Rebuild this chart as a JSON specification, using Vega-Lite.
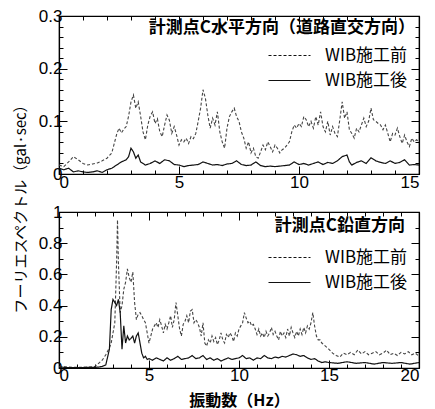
{
  "$schema": "https://vega.github.io/schema/vega-lite/v6.json",
  "padding": {"left": 12, "top": 6, "right": 4, "bottom": 0},
  "bounds": "flush",
  "spacing": 38,
  "config": {
    "font": "Liberation Sans",
    "view": {"stroke": "black", "strokeWidth": 1.2},
    "mark": {"invalid": "filter"},
    "axis": {
      "domainColor": "black", "domainWidth": 1.2, "tickColor": "black", "tickWidth": 1,
      "labelColor": "black", "labelFont": "Liberation Sans", "labelFontSize": 17,
      "grid": false, "titleFont": "Noto Sans CJK JP", "titleFontSize": 15,
      "titleFontWeight": "normal", "titleColor": "black"
    },
    "legend": {
      "labelFont": "Noto Sans CJK JP", "labelFontSize": 17, "labelColor": "black"
    }
  },
  "datasets": {
    "top": [
      {"f":0,"b":0.017,"a":0.011},{"f":0.2,"b":0.014,"a":0.008},{"f":0.4,"b":0.023,"a":0.011},{"f":0.6,"b":0.033,"a":0.004},
      {"f":0.8,"b":0.027,"a":0.006},{"f":1.0,"b":0.02,"a":0.004},{"f":1.2,"b":0.017,"a":0.003},{"f":1.4,"b":0.019,"a":0.004},
      {"f":1.6,"b":0.021,"a":0.006},{"f":1.8,"b":0.025,"a":0.003},{"f":2.0,"b":0.03,"a":0.008},{"f":2.2,"b":0.04,"a":0.011},
      {"f":2.4,"b":0.075,"a":0.017},{"f":2.5,"b":0.087},{"f":2.6,"b":0.078,"a":0.023},{"f":2.7,"b":0.085},
      {"f":2.8,"b":0.09,"a":0.027},{"f":2.9,"b":0.11,"a":0.033},{"f":3.0,"b":0.137,"a":0.049},{"f":3.1,"b":0.15,"a":0.042},
      {"f":3.2,"b":0.125,"a":0.03},{"f":3.3,"b":0.137,"a":0.036},{"f":3.4,"b":0.11,"a":0.023},{"f":3.5,"b":0.08},
      {"f":3.6,"b":0.065,"a":0.017},{"f":3.7,"b":0.093},{"f":3.8,"b":0.11,"a":0.02},{"f":3.9,"b":0.118},
      {"f":4.0,"b":0.096,"a":0.025},{"f":4.1,"b":0.105},{"f":4.2,"b":0.08,"a":0.02},{"f":4.3,"b":0.071},
      {"f":4.4,"b":0.093,"a":0.027},{"f":4.5,"b":0.112},{"f":4.6,"b":0.102,"a":0.025},{"f":4.7,"b":0.077},
      {"f":4.8,"b":0.09,"a":0.018},{"f":4.9,"b":0.074},{"f":5.0,"b":0.055,"a":0.017},{"f":5.1,"b":0.065},
      {"f":5.2,"b":0.061,"a":0.014},{"f":5.3,"b":0.068},{"f":5.4,"b":0.058,"a":0.016},{"f":5.5,"b":0.071},
      {"f":5.6,"b":0.067,"a":0.017},{"f":5.7,"b":0.077},{"f":5.8,"b":0.1,"a":0.018},{"f":5.9,"b":0.125},
      {"f":6.0,"b":0.16,"a":0.023},{"f":6.1,"b":0.144},{"f":6.2,"b":0.112,"a":0.02},{"f":6.3,"b":0.087},
      {"f":6.4,"b":0.106,"a":0.017},{"f":6.5,"b":0.093},{"f":6.6,"b":0.118,"a":0.018},{"f":6.7,"b":0.08},
      {"f":6.8,"b":0.061,"a":0.016},{"f":6.9,"b":0.049},{"f":7.0,"b":0.087,"a":0.019},{"f":7.1,"b":0.109},
      {"f":7.2,"b":0.118,"a":0.02},{"f":7.3,"b":0.125},{"f":7.4,"b":0.109,"a":0.025},{"f":7.5,"b":0.1},
      {"f":7.6,"b":0.08,"a":0.018},{"f":7.7,"b":0.068},{"f":7.8,"b":0.049,"a":0.016},{"f":7.9,"b":0.061},
      {"f":8.0,"b":0.04,"a":0.017},{"f":8.1,"b":0.049},{"f":8.2,"b":0.033,"a":0.023},{"f":8.3,"b":0.03},
      {"f":8.4,"b":0.042,"a":0.016},{"f":8.5,"b":0.055},{"f":8.6,"b":0.046,"a":0.014},{"f":8.7,"b":0.061},
      {"f":8.8,"b":0.052,"a":0.015},{"f":8.9,"b":0.042},{"f":9.0,"b":0.055,"a":0.014},{"f":9.1,"b":0.049},
      {"f":9.2,"b":0.04,"a":0.015},{"f":9.3,"b":0.046},{"f":9.4,"b":0.049,"a":0.016},{"f":9.5,"b":0.055},
      {"f":9.6,"b":0.061,"a":0.017},{"f":9.7,"b":0.08},{"f":9.8,"b":0.093,"a":0.023},{"f":9.9,"b":0.087},
      {"f":10.0,"b":0.096,"a":0.018},{"f":10.1,"b":0.09},{"f":10.2,"b":0.109,"a":0.02},{"f":10.3,"b":0.103},
      {"f":10.4,"b":0.09,"a":0.017},{"f":10.5,"b":0.1},{"f":10.6,"b":0.087,"a":0.02},{"f":10.7,"b":0.109},
      {"f":10.8,"b":0.093,"a":0.023},{"f":10.9,"b":0.118},{"f":11.0,"b":0.09,"a":0.018},{"f":11.1,"b":0.08},
      {"f":11.2,"b":0.1,"a":0.022},{"f":11.3,"b":0.074},{"f":11.4,"b":0.09,"a":0.02},{"f":11.5,"b":0.077},
      {"f":11.6,"b":0.071,"a":0.025},{"f":11.7,"b":0.103},{"f":11.8,"b":0.137,"a":0.033},{"f":11.9,"b":0.106},
      {"f":12.0,"b":0.118,"a":0.036},{"f":12.1,"b":0.084,"a":0.023},{"f":12.2,"b":0.077,"a":0.017},{"f":12.3,"b":0.068},
      {"f":12.4,"b":0.087,"a":0.022},{"f":12.5,"b":0.08},{"f":12.6,"b":0.093,"a":0.025},{"f":12.7,"b":0.106},
      {"f":12.8,"b":0.09,"a":0.02},{"f":12.9,"b":0.1},{"f":13.0,"b":0.125,"a":0.031},{"f":13.1,"b":0.103},
      {"f":13.2,"b":0.1,"a":0.025},{"f":13.3,"b":0.096},{"f":13.4,"b":0.093,"a":0.022},{"f":13.5,"b":0.084},
      {"f":13.6,"b":0.093,"a":0.02},{"f":13.7,"b":0.077},{"f":13.8,"b":0.061,"a":0.025},{"f":13.9,"b":0.077},
      {"f":14.0,"b":0.074,"a":0.02},{"f":14.1,"b":0.087},{"f":14.2,"b":0.071,"a":0.022},{"f":14.3,"b":0.058},
      {"f":14.4,"b":0.074,"a":0.027},{"f":14.5,"b":0.061},{"f":14.6,"b":0.052,"a":0.017},{"f":14.7,"b":0.068},
      {"f":14.8,"b":0.061,"a":0.018},{"f":14.9,"b":0.065},{"f":15.0,"b":0.061,"a":0.017}
    ],
    "bot": [
      {"f":0,"b":0.01,"a":0.006},{"f":0.5,"b":0.006,"a":0.003},{"f":1.0,"b":0.004,"a":0.002},{"f":1.5,"b":0.005,"a":0.004},
      {"f":2.0,"b":0.01,"a":0.004},{"f":2.2,"b":0.03,"a":0.006},{"f":2.4,"b":0.05,"a":0.01},{"f":2.6,"b":0.085,"a":0.02},
      {"f":2.8,"b":0.13,"a":0.12},{"f":2.9,"b":0.16,"a":0.375},{"f":3.0,"b":0.225,"a":0.44},{"f":3.1,"b":0.29,"a":0.42},
      {"f":3.2,"b":0.68,"a":0.4},{"f":3.25,"b":0.95},{"f":3.3,"b":0.68,"a":0.44},{"f":3.4,"b":0.355,"a":0.355},
      {"f":3.5,"b":0.4,"a":0.12},{"f":3.6,"b":0.505,"a":0.27},{"f":3.7,"b":0.55,"a":0.16},{"f":3.8,"b":0.635,"a":0.205},
      {"f":3.9,"b":0.58,"a":0.18},{"f":4.0,"b":0.55,"a":0.19},{"f":4.1,"b":0.615,"a":0.205},{"f":4.2,"b":0.42,"a":0.16},
      {"f":4.3,"b":0.31,"a":0.205},{"f":4.4,"b":0.345,"a":0.225},{"f":4.5,"b":0.355,"a":0.16},{"f":4.6,"b":0.335,"a":0.095},
      {"f":4.7,"b":0.31,"a":0.065},{"f":4.8,"b":0.29,"a":0.075},{"f":4.9,"b":0.225,"a":0.055},{"f":5.0,"b":0.16,"a":0.06},
      {"f":5.1,"b":0.205},{"f":5.2,"b":0.25,"a":0.05},{"f":5.3,"b":0.27},{"f":5.4,"b":0.29,"a":0.065},
      {"f":5.5,"b":0.26},{"f":5.6,"b":0.31,"a":0.055},{"f":5.7,"b":0.27},{"f":5.8,"b":0.225,"a":0.045},
      {"f":5.9,"b":0.28},{"f":6.0,"b":0.25,"a":0.065},{"f":6.1,"b":0.29},{"f":6.2,"b":0.335,"a":0.05},
      {"f":6.3,"b":0.26},{"f":6.4,"b":0.31,"a":0.06},{"f":6.5,"b":0.42},{"f":6.6,"b":0.335,"a":0.075},
      {"f":6.7,"b":0.25},{"f":6.8,"b":0.205,"a":0.055},{"f":6.9,"b":0.28},{"f":7.0,"b":0.3,"a":0.06},
      {"f":7.1,"b":0.335},{"f":7.2,"b":0.29,"a":0.065},{"f":7.3,"b":0.365},{"f":7.4,"b":0.375,"a":0.08},
      {"f":7.5,"b":0.29},{"f":7.6,"b":0.31,"a":0.06},{"f":7.7,"b":0.29},{"f":7.8,"b":0.26,"a":0.065},
      {"f":7.9,"b":0.205},{"f":8.0,"b":0.29,"a":0.08},{"f":8.1,"b":0.16},{"f":8.2,"b":0.14,"a":0.055},
      {"f":8.3,"b":0.18},{"f":8.4,"b":0.16,"a":0.065},{"f":8.5,"b":0.205},{"f":8.6,"b":0.17,"a":0.05},
      {"f":8.7,"b":0.195},{"f":8.8,"b":0.15,"a":0.06},{"f":8.9,"b":0.18},{"f":9.0,"b":0.225,"a":0.045},
      {"f":9.1,"b":0.18},{"f":9.2,"b":0.16,"a":0.055},{"f":9.3,"b":0.215},{"f":9.4,"b":0.195,"a":0.065},
      {"f":9.5,"b":0.225},{"f":9.6,"b":0.205,"a":0.055},{"f":9.7,"b":0.17},{"f":9.8,"b":0.225,"a":0.06},
      {"f":9.9,"b":0.205},{"f":10.0,"b":0.25,"a":0.065},{"f":10.1,"b":0.27},{"f":10.2,"b":0.29,"a":0.08},
      {"f":10.3,"b":0.355},{"f":10.4,"b":0.32,"a":0.06},{"f":10.5,"b":0.29},{"f":10.6,"b":0.3,"a":0.065},
      {"f":10.7,"b":0.27},{"f":10.8,"b":0.28,"a":0.05},{"f":10.9,"b":0.25},{"f":11.0,"b":0.215,"a":0.065},
      {"f":11.1,"b":0.25},{"f":11.2,"b":0.205,"a":0.06},{"f":11.3,"b":0.225},{"f":11.4,"b":0.195,"a":0.08},
      {"f":11.5,"b":0.235},{"f":11.6,"b":0.205,"a":0.065},{"f":11.7,"b":0.225},{"f":11.8,"b":0.26,"a":0.06},
      {"f":11.9,"b":0.215},{"f":12.0,"b":0.235,"a":0.07},{"f":12.1,"b":0.205},{"f":12.2,"b":0.18,"a":0.065},
      {"f":12.3,"b":0.235},{"f":12.4,"b":0.205,"a":0.075},{"f":12.5,"b":0.225},{"f":12.6,"b":0.195,"a":0.07},
      {"f":12.7,"b":0.25},{"f":12.8,"b":0.205,"a":0.08},{"f":12.9,"b":0.26},{"f":13.0,"b":0.225,"a":0.09},
      {"f":13.1,"b":0.195},{"f":13.2,"b":0.235,"a":0.085},{"f":13.3,"b":0.205},{"f":13.4,"b":0.25,"a":0.075},
      {"f":13.5,"b":0.215},{"f":13.6,"b":0.26,"a":0.08},{"f":13.7,"b":0.225},{"f":13.8,"b":0.27,"a":0.065},
      {"f":13.9,"b":0.25},{"f":14.0,"b":0.29,"a":0.055},{"f":14.1,"b":0.355},{"f":14.2,"b":0.27,"a":0.06},
      {"f":14.3,"b":0.205},{"f":14.4,"b":0.18,"a":0.045},{"f":14.5,"b":0.18},{"f":14.6,"b":0.16,"a":0.035},
      {"f":14.7,"b":0.15},{"f":14.8,"b":0.14,"a":0.04},{"f":14.9,"b":0.13},{"f":15.0,"b":0.12,"a":0.035},
      {"f":15.2,"b":0.095},{"f":15.4,"b":0.08},{"f":15.5,"a":0.03},{"f":15.6,"b":0.07},{"f":15.8,"b":0.095},
      {"f":16.0,"b":0.085,"a":0.04},{"f":16.2,"b":0.1},{"f":16.4,"b":0.085},{"f":16.5,"a":0.03},{"f":16.6,"b":0.115},
      {"f":16.8,"b":0.09},{"f":17.0,"b":0.105,"a":0.035},{"f":17.2,"b":0.085},{"f":17.4,"b":0.095},{"f":17.5,"a":0.025},
      {"f":17.6,"b":0.105},{"f":17.8,"b":0.085},{"f":18.0,"b":0.095,"a":0.035},{"f":18.2,"b":0.115},{"f":18.4,"b":0.085},
      {"f":18.5,"a":0.03},{"f":18.6,"b":0.095},{"f":18.8,"b":0.08},{"f":19.0,"b":0.1,"a":0.035},{"f":19.2,"b":0.09},
      {"f":19.4,"b":0.105},{"f":19.5,"a":0.025},{"f":19.6,"b":0.085},{"f":19.8,"b":0.095},{"f":20.0,"b":0.075,"a":0.035}
    ]
  },
  "vconcat": [
    {
      "width": 360, "height": 158,
      "data": {"name": "top"},
      "transform": [{"fold": ["b", "a"], "as": ["s", "v"]}, {"filter": "isValid(datum.v)"}],
      "title": {"text": "計測点C水平方向（道路直交方向）", "orient": "top", "anchor": "end", "frame": "group",
        "offset": -30, "dx": -4, "font": "Noto Sans CJK JP", "fontSize": 17, "fontWeight": "bold", "color": "black"},
      "layer": [
        {
          "transform": [{"filter": "datum.s === 'b'"}],
          "mark": {"type": "line", "strokeWidth": 1.1, "color": "#444"},
          "encoding": {
            "x": {"field": "f", "type": "quantitative", "scale": {"domain": [0, 15], "nice": false},
              "axis": {"orient": "bottom", "title": null, "values": [0,1,2,3,4,5,6,7,8,9,10,11,12,13,14,15],
                "labelExpr": "datum.value % 5 === 0 ? datum.label : ''",
                "tickSize": {"condition": {"test": "datum.value % 5 === 0", "value": -8}, "value": -4},
                "labelPadding": 8}},
            "y": {"field": "v", "type": "quantitative", "scale": {"domain": [0, 0.3], "nice": false},
              "axis": {"orient": "left", "values": [0,0.02,0.04,0.06,0.08,0.1,0.12,0.14,0.16,0.18,0.2,0.22,0.24,0.26,0.28,0.3],
                "format": "~g",
                "labelExpr": "abs(datum.value*10 - round(datum.value*10)) < 0.001 ? datum.label : ''",
                "tickSize": {"condition": {"test": "abs(datum.value*10 - round(datum.value*10)) < 0.001", "value": -8}, "value": -4},
                "labelPadding": 5,
                "title": "フーリエスペクトル（gal·sec）", "titleY": 189, "titlePadding": 10}},
            "strokeDash": {"field": "s", "type": "nominal",
              "scale": {"domain": ["b", "a"], "range": [[3, 2], [1, 0]]},
              "legend": {"orient": "none", "legendX": 222, "legendY": 31, "title": null,
                "symbolType": "M-3,0H3", "symbolSize": 196, "symbolStrokeWidth": 1.2, "symbolStrokeColor": "#222",
                "labelOffset": 27, "rowPadding": 7,
                "labelExpr": "datum.value === 'b' ? 'WIB施工前' : 'WIB施工後'"}}
          }
        },
        {
          "transform": [{"filter": "datum.s === 'a'"}],
          "mark": {"type": "line", "strokeWidth": 1.2, "color": "#111"},
          "encoding": {
            "x": {"field": "f", "type": "quantitative",
              "axis": {"orient": "top", "title": null, "labels": false, "values": [0,1,2,3,4,5,6,7,8,9,10,11,12,13,14,15],
                "tickSize": {"condition": {"test": "datum.value % 5 === 0", "value": -8}, "value": -4}}},
            "y": {"field": "v", "type": "quantitative",
              "axis": {"orient": "right", "title": null, "labels": false,
                "values": [0,0.02,0.04,0.06,0.08,0.1,0.12,0.14,0.16,0.18,0.2,0.22,0.24,0.26,0.28,0.3],
                "tickSize": {"condition": {"test": "abs(datum.value*10 - round(datum.value*10)) < 0.001", "value": -8}, "value": -4}}},
            "strokeDash": {"field": "s", "type": "nominal"}
          }
        }
      ],
      "resolve": {"axis": {"x": "independent", "y": "independent"}}
    },
    {
      "width": 360, "height": 156,
      "data": {"name": "bot"},
      "transform": [{"fold": ["b", "a"], "as": ["s", "v"]}, {"filter": "isValid(datum.v)"}],
      "title": {"text": "計測点C鉛直方向", "orient": "top", "anchor": "end", "frame": "group",
        "offset": -32, "dx": -14, "font": "Noto Sans CJK JP", "fontSize": 17, "fontWeight": "bold", "color": "black"},
      "layer": [
        {
          "transform": [{"filter": "datum.s === 'b'"}],
          "mark": {"type": "line", "strokeWidth": 1.1, "color": "#444"},
          "encoding": {
            "x": {"field": "f", "type": "quantitative", "scale": {"domain": [0, 20], "nice": false},
              "axis": {"orient": "bottom", "title": "振動数（Hz）", "titleFontSize": 16, "titleFontWeight": "bold", "titlePadding": 9,
                "values": [0,1,2,3,4,5,6,7,8,9,10,11,12,13,14,15,16,17,18,19,20],
                "labelExpr": "datum.value % 5 === 0 ? datum.label : ''",
                "tickSize": {"condition": {"test": "datum.value % 5 === 0", "value": -8}, "value": -4},
                "labelPadding": 7}},
            "y": {"field": "v", "type": "quantitative", "scale": {"domain": [0, 1], "nice": false},
              "axis": {"orient": "left", "values": [0,0.1,0.2,0.3,0.4,0.5,0.6,0.7,0.8,0.9,1],
                "format": "~g",
                "labelExpr": "abs(datum.value*5 - round(datum.value*5)) < 0.001 ? datum.label : ''",
                "tickSize": {"condition": {"test": "abs(datum.value*5 - round(datum.value*5)) < 0.001", "value": -8}, "value": -4},
                "labelPadding": 5, "title": null}},
            "strokeDash": {"field": "s", "type": "nominal",
              "scale": {"domain": ["b", "a"], "range": [[3, 2], [1, 0]]},
              "legend": {"orient": "none", "legendX": 222, "legendY": 37, "title": null,
                "symbolType": "M-3,0H3", "symbolSize": 196, "symbolStrokeWidth": 1.2, "symbolStrokeColor": "#222",
                "labelOffset": 27, "rowPadding": 7,
                "labelExpr": "datum.value === 'b' ? 'WIB施工前' : 'WIB施工後'"}}
          }
        },
        {
          "transform": [{"filter": "datum.s === 'a'"}],
          "mark": {"type": "line", "strokeWidth": 1.2, "color": "#111"},
          "encoding": {
            "x": {"field": "f", "type": "quantitative",
              "axis": {"orient": "top", "title": null, "labels": false,
                "values": [0,1,2,3,4,5,6,7,8,9,10,11,12,13,14,15,16,17,18,19,20],
                "tickSize": {"condition": {"test": "datum.value % 5 === 0", "value": -8}, "value": -4}}},
            "y": {"field": "v", "type": "quantitative",
              "axis": {"orient": "right", "title": null, "labels": false,
                "values": [0,0.1,0.2,0.3,0.4,0.5,0.6,0.7,0.8,0.9,1],
                "tickSize": {"condition": {"test": "abs(datum.value*5 - round(datum.value*5)) < 0.001", "value": -8}, "value": -4}}},
            "strokeDash": {"field": "s", "type": "nominal"}
          }
        }
      ],
      "resolve": {"axis": {"x": "independent", "y": "independent"}}
    }
  ],
  "resolve": {"scale": {"strokeDash": "independent"}, "legend": {"strokeDash": "independent"}}
}
